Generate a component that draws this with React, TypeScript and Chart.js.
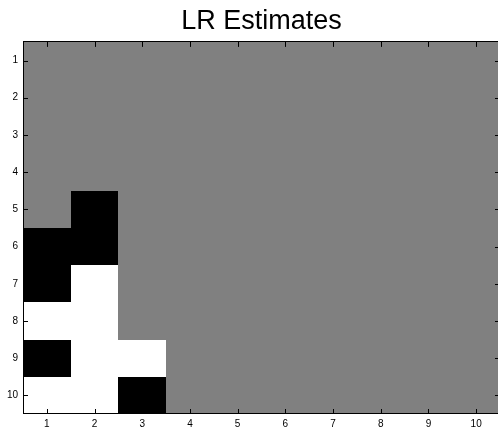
import React, { useEffect, useRef } from "react";
import { Chart, registerables } from "chart.js";

Chart.register(...registerables);

// Grid of estimates: 0 = undetermined (gray), 1 = positive (black), -1 = negative (white)
const rowLabels = [1, 2, 3, 4, 5, 6, 7, 8, 9, 10];
const colLabels = [1, 2, 3, 4, 5, 6, 7, 8, 9, 10];
const row1 = [0, 0, 0, 0, 0, 0, 0, 0, 0, 0];
const row2 = [0, 0, 0, 0, 0, 0, 0, 0, 0, 0];
const row3 = [0, 0, 0, 0, 0, 0, 0, 0, 0, 0];
const row4 = [0, 0, 0, 0, 0, 0, 0, 0, 0, 0];
const row5 = [0, 1, 0, 0, 0, 0, 0, 0, 0, 0];
const row6 = [1, 1, 0, 0, 0, 0, 0, 0, 0, 0];
const row7 = [1, -1, 0, 0, 0, 0, 0, 0, 0, 0];
const row8 = [-1, -1, 0, 0, 0, 0, 0, 0, 0, 0];
const row9 = [1, -1, -1, 0, 0, 0, 0, 0, 0, 0];
const row10 = [-1, -1, 1, 0, 0, 0, 0, 0, 0, 0];
const grid = [row1, row2, row3, row4, row5, row6, row7, row8, row9, row10];

const colorFor = (v: number) => (v > 0 ? "#000000" : v < 0 ? "#ffffff" : "#808080");

const FONT = "'Liberation Sans', Arial, Helvetica, sans-serif";

const heatmapPlugin = {
  id: "heatmapCells",
  beforeDatasetsDraw(chart: any) {
    const { ctx, scales } = chart;
    const xs = scales.x;
    const ys = scales.y;
    ctx.save();
    grid.forEach((row, ri) => {
      row.forEach((v, ci) => {
        const x0 = Math.round(xs.getPixelForValue(colLabels[ci] - 0.5));
        const x1 = Math.round(xs.getPixelForValue(colLabels[ci] + 0.5));
        const y0 = Math.round(ys.getPixelForValue(rowLabels[ri] - 0.5));
        const y1 = Math.round(ys.getPixelForValue(rowLabels[ri] + 0.5));
        ctx.fillStyle = colorFor(v);
        ctx.fillRect(Math.min(x0, x1), Math.min(y0, y1), Math.abs(x1 - x0), Math.abs(y1 - y0));
      });
    });
    ctx.restore();
  },
  afterDraw(chart: any) {
    const { ctx, chartArea: a, scales } = chart;
    const tl = 5;
    ctx.save();
    ctx.strokeStyle = "#000000";
    ctx.lineWidth = 1;
    ctx.beginPath();
    colLabels.forEach((c) => {
      const x = Math.round(scales.x.getPixelForValue(c)) + 0.5;
      ctx.moveTo(x, a.bottom);
      ctx.lineTo(x, a.bottom - tl);
      ctx.moveTo(x, a.top);
      ctx.lineTo(x, a.top + tl);
    });
    rowLabels.forEach((r) => {
      const y = Math.round(scales.y.getPixelForValue(r)) + 0.5;
      ctx.moveTo(a.left, y);
      ctx.lineTo(a.left + tl, y);
      ctx.moveTo(a.right, y);
      ctx.lineTo(a.right - tl, y);
    });
    ctx.stroke();
    ctx.strokeRect(
      Math.round(a.left) + 0.5,
      Math.round(a.top) - 0.5,
      Math.round(a.right - a.left) - 1,
      Math.round(a.bottom - a.top)
    );
    ctx.restore();
  },
};

export default function App() {
  const ref = useRef<HTMLCanvasElement>(null);
  useEffect(() => {
    document.body.style.margin = "0";
    const chart = new Chart(ref.current!, {
      type: "scatter",
      data: { datasets: [{ data: [], pointRadius: 0 }] },
      options: {
        animation: false,
        responsive: false,
        maintainAspectRatio: false,
        layout: { padding: { left: 0, right: 2, top: 0, bottom: 0 } },
        plugins: {
          legend: { display: false },
          tooltip: { enabled: false },
          title: {
            display: true,
            fullSize: false,
            text: "LR Estimates",
            color: "#000000",
            font: { family: FONT, size: 27, weight: "normal", lineHeight: 1.2 },
            padding: { top: 5.5, bottom: 4 },
          },
        },
        scales: {
          x: {
            type: "linear",
            min: 0.5,
            max: 10.5,
            afterBuildTicks: (s: any) => {
              s.ticks = colLabels.map((v) => ({ value: v }));
            },
            afterFit: (s: any) => {
              s.height = 17;
            },
            grid: { display: false, drawTicks: false },
            border: { display: false },
            ticks: { color: "#000000", font: { family: FONT, size: 10 }, padding: 4, maxRotation: 0 },
          },
          y: {
            type: "linear",
            reverse: true,
            min: 0.5,
            max: 10.5,
            afterBuildTicks: (s: any) => {
              s.ticks = rowLabels.map((v) => ({ value: v }));
            },
            afterFit: (s: any) => {
              s.width = 23;
            },
            grid: { display: false, drawTicks: false },
            border: { display: false },
            ticks: { color: "#000000", font: { family: FONT, size: 10 }, padding: 5 },
          },
        },
      },
      plugins: [heatmapPlugin],
    } as any);
    return () => chart.destroy();
  }, []);
  return (
    <div style={{ width: 498, height: 431, overflow: "hidden", background: "#ffffff" }}>
      <canvas ref={ref} width={502} height={431} style={{ display: "block" }} />
    </div>
  );
}
